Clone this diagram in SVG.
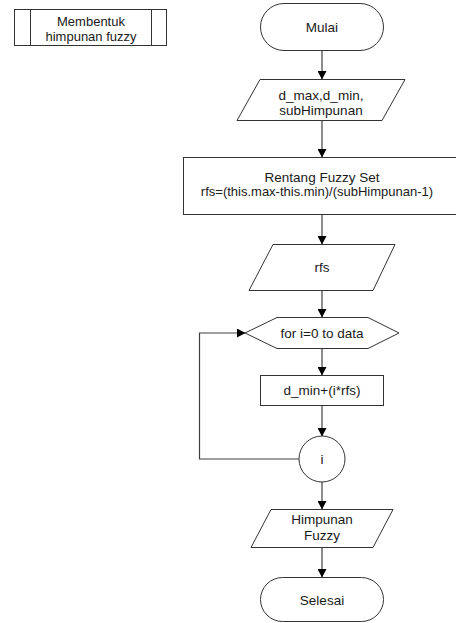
<svg xmlns="http://www.w3.org/2000/svg" width="456" height="623" viewBox="0 0 456 623">
  <style>
    .shape { fill: #ffffff; stroke: #333333; stroke-width: 1; }
    .line { fill: none; stroke: #404040; stroke-width: 1.2; }
    .txt { font-family: "Liberation Sans", Arial, sans-serif; font-size: 13.5px; fill: #1a1a1a; text-anchor: middle; }
    .hdr { font-family: "Liberation Sans", Arial, sans-serif; font-size: 13px; fill: #1a1a1a; text-anchor: middle; }
  </style>
  <defs>
    <marker id="arrow" markerWidth="9" markerHeight="9" refX="8" refY="4.5" orient="auto" markerUnits="userSpaceOnUse">
      <path d="M0,0 L8.5,4.5 L0,9 Z" fill="#000000"/>
    </marker>
  </defs>
  <rect width="456" height="623" fill="#ffffff"/>

  <!-- predefined-process title box -->
  <g id="title">
    <rect class="shape" x="14.5" y="9.5" width="152" height="36"/>
    <line class="shape" x1="30.5" y1="9.5" x2="30.5" y2="45.5"/>
    <line class="shape" x1="151.5" y1="9.5" x2="151.5" y2="45.5"/>
    <text class="hdr" x="91" y="26">Membentuk</text>
    <text class="hdr" x="91" y="41.2">himpunan fuzzy</text>
  </g>

  <!-- connectors -->
  <g id="connectors">
    <line class="line" x1="322" y1="51" x2="322" y2="79" marker-end="url(#arrow)"/>
    <line class="line" x1="322" y1="120.5" x2="322" y2="157" marker-end="url(#arrow)"/>
    <line class="line" x1="322" y1="215" x2="322" y2="244" marker-end="url(#arrow)"/>
    <line class="line" x1="322" y1="291" x2="322" y2="317" marker-end="url(#arrow)"/>
    <line class="line" x1="322" y1="349" x2="322" y2="375" marker-end="url(#arrow)"/>
    <line class="line" x1="322" y1="406" x2="322" y2="436" marker-end="url(#arrow)"/>
    <line class="line" x1="322" y1="482" x2="322" y2="509" marker-end="url(#arrow)"/>
    <line class="line" x1="322" y1="548" x2="322" y2="577" marker-end="url(#arrow)"/>
    <polyline class="line" points="299,459 199.5,459 199.5,333 245,333" marker-end="url(#arrow)"/>
  </g>

  <g id="start">
    <rect class="shape" x="260.5" y="3.5" width="123" height="47" rx="23.5" ry="23.5"/>
    <text class="txt" x="322" y="32">Mulai</text>
  </g>

  <g id="input">
    <polygon class="shape" points="260,79.5 405,79.5 382,120.5 237,120.5"/>
    <text class="txt" x="321" y="100">d_max,d_min,</text>
    <text class="txt" x="321" y="115">subHimpunan</text>
  </g>

  <g id="range">
    <rect class="shape" x="183.5" y="157.5" width="278" height="57"/>
    <text class="txt" x="322" y="182">Rentang Fuzzy Set</text>
    <text class="txt" x="317" y="196" style="font-size:13px">rfs=(this.max-this.min)/(subHimpunan-1)</text>
  </g>

  <g id="rfs">
    <polygon class="shape" points="273,244.5 395,244.5 373,290.5 249,290.5"/>
    <text class="txt" x="322" y="272">rfs</text>
  </g>

  <g id="loop">
    <polygon class="shape" points="245,333 277,317.5 368,317.5 399,333 368,348.5 277,348.5"/>
    <text class="txt" x="322" y="337.5">for i=0 to data</text>
  </g>

  <g id="compute">
    <rect class="shape" x="260.5" y="375.5" width="123" height="30"/>
    <text class="txt" x="322" y="394.5">d_min+(i*rfs)</text>
  </g>

  <g id="connector-i">
    <circle class="shape" cx="322" cy="459" r="23"/>
    <text class="txt" x="322" y="463.5">i</text>
  </g>

  <g id="output">
    <polygon class="shape" points="271,509.5 393,509.5 373,547.5 251,547.5"/>
    <text class="txt" x="322" y="524">Himpunan</text>
    <text class="txt" x="322" y="539.5">Fuzzy</text>
  </g>

  <g id="end">
    <rect class="shape" x="260.5" y="577.5" width="123" height="44" rx="22" ry="22"/>
    <text class="txt" x="322" y="605">Selesai</text>
  </g>
</svg>
